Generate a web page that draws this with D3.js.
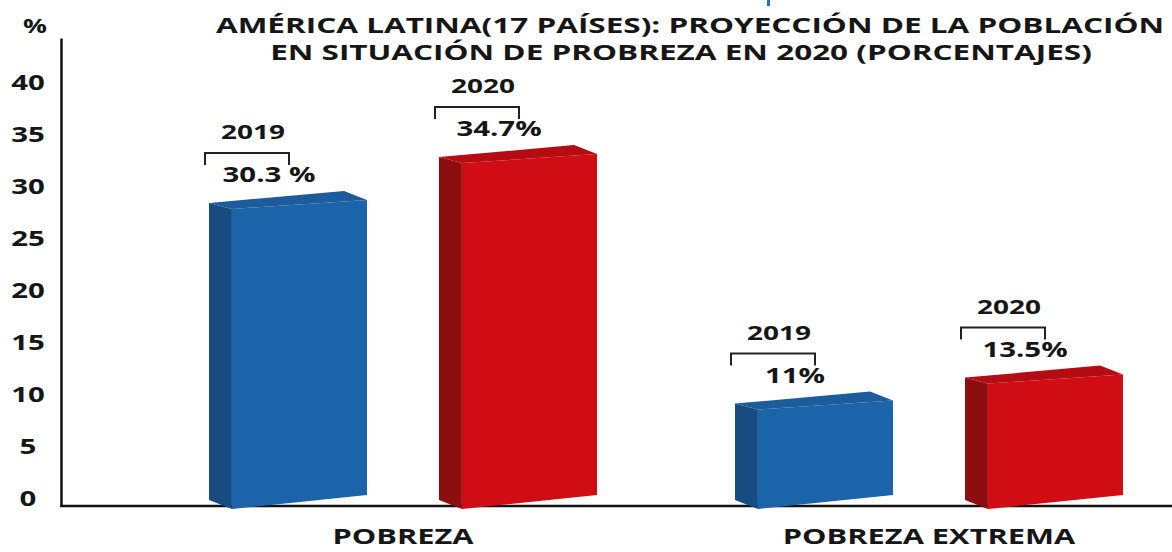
<!DOCTYPE html>
<html>
<head>
<meta charset="utf-8">
<script src="https://cdn.jsdelivr.net/npm/d3@7"></script>
<style>
  body { margin: 0; background: #fff; }
  text { font-family: "Open Sans", sans-serif; font-weight: bold; fill: #161616; }
</style>
</head>
<body>
<div id="chart"></div>
<script>
// data
var categories = ["POBREZA", "POBREZA EXTREMA"];
var years = ["2019", "2020"];
var values2019 = [30.3, 11];
var values2020 = [34.7, 13.5];
var valueLabels2019 = ["30.3 %", "11%"];
var valueLabels2020 = ["34.7%", "13.5%"];
var yTicks = [0, 5, 10, 15, 20, 25, 30, 35, 40];
var titleLines = [
    "AMÉRICA LATINA(17 PAÍSES): PROYECCIÓN DE LA POBLACIÓN",
    "EN SITUACIÓN DE PROBREZA EN 2020 (PORCENTAJES)"
];

function init() {
    var width = 1172;
    var height = 552;
    var sx = 1.4;   // the original lettering is stretched sideways

    var colors = {
        "2019": { front: "#1b64a9", side: "#164c80", top: "#1c5c9c" },
        "2020": { front: "#d00c14", side: "#8c0e0e", top: "#b50b12" }
    };

    var rows = [];
    categories.forEach(function (c, i) {
        rows.push({ cat: c, year: "2019", value: values2019[i], label: valueLabels2019[i] });
        rows.push({ cat: c, year: "2020", value: values2020[i], label: valueLabels2020[i] });
    });

    var svg = d3.select("#chart")
        .append("svg")
        .attr("width", width)
        .attr("height", height);

    var y = d3.scaleLinear().domain([0, 45]).range([506, 38]);

    var x0 = d3.scaleBand()
        .domain(categories)
        .range([140, 1192]);

    var x1 = d3.scaleBand()
        .domain(years)
        .range([69, 457])
        .paddingInner(0.313);

    // stretched text helper
    function label(g, x, yy, txt, size, s) {
        return g.append("text")
            .attr("transform", "translate(" + x + "," + yy + ") scale(" + (s || sx) + ",1)")
            .attr("text-anchor", "middle")
            .style("font-size", size + "px")
            .text(txt);
    }

    // title
    label(svg, 690, 33, titleLines[0], 21, 1.5);
    label(svg, 681, 60, titleLines[1], 21, 1.5);
    label(svg, 35, 33, "%", 19);

    // small blue mark at the top edge
    svg.append("rect")
        .attr("x", 767).attr("y", 0)
        .attr("width", 3).attr("height", 6)
        .attr("fill", "#1a72c8");

    // y axis
    var yAxis = svg.append("g")
        .attr("transform", "translate(61,0)")
        .call(d3.axisLeft(y).tickValues(yTicks).tickSize(0).tickSizeOuter(0));
    yAxis.select(".domain").attr("stroke", "#111").attr("stroke-width", 2.5);
    yAxis.selectAll(".tick text")
        .attr("x", 0)
        .attr("dy", 0)
        .attr("text-anchor", "middle")
        .attr("transform", "translate(-33,-1) scale(" + sx + ",1)")
        .style("font-size", "21px")
        .style("font-family", "Open Sans, sans-serif")
        .style("font-weight", "bold")
        .attr("fill", "#161616");

    // baseline
    svg.append("line")
        .attr("x1", 60).attr("x2", width)
        .attr("y1", y(0)).attr("y2", y(0))
        .attr("stroke", "#111")
        .attr("stroke-width", 2.5);

    // category labels
    categories.forEach(function (c) {
        label(svg, x0(c) + x0.bandwidth() / 2, 544, c, 22);
    });

    // 3d bars
    var bw = x1.bandwidth();
    var d = bw * 0.145;
    var w = bw - d;
    var base = y(0);

    var bars = svg.selectAll(".bar")
        .data(rows)
        .enter()
        .append("g")
        .attr("class", "bar")
        .attr("transform", function (r) { return "translate(" + (x0(r.cat) + x1(r.year)) + ",0)"; });

    bars.append("path")
        .attr("fill", function (r) { return colors[r.year].side; })
        .attr("d", function (r) {
            var t = y(r.value);
            return "M0," + (t + 12) + "L" + d + "," + (t + 18) + "L" + d + "," + (base + 3) +
                "L0," + (base - 6) + "Z";
        });

    bars.append("path")
        .attr("fill", function (r) { return colors[r.year].front; })
        .attr("d", function (r) {
            var t = y(r.value);
            return "M" + d + "," + (t + 18) + "L" + bw + "," + (t + 9) + "L" + bw + "," + (base - 11) +
                "L" + d + "," + (base + 3) + "Z";
        });

    bars.append("path")
        .attr("fill", function (r) { return colors[r.year].top; })
        .attr("d", function (r) {
            var t = y(r.value);
            return "M0," + (t + 12) + "L" + w + "," + t + "L" + bw + "," + (t + 9) +
                "L" + d + "," + (t + 18) + "Z";
        });

    // annotations: year, bracket, value
    bars.each(function (r) {
        var g = d3.select(this);
        var cx = 38;
        var top = y(r.value) - 38;
        g.append("path")
            .attr("fill", "none")
            .attr("stroke", "#222")
            .attr("stroke-width", 2)
            .attr("d", "M" + (cx - 42) + "," + (top + 12) + "V" + top + "H" + (cx + 42) + "V" + (top + 12));
        label(g, cx + 6, top - 14, r.year, 20);
        label(g, cx + 22, top + 29, r.label, 21);
    });
}

window.onload = init;
</script>
</body>
</html>
